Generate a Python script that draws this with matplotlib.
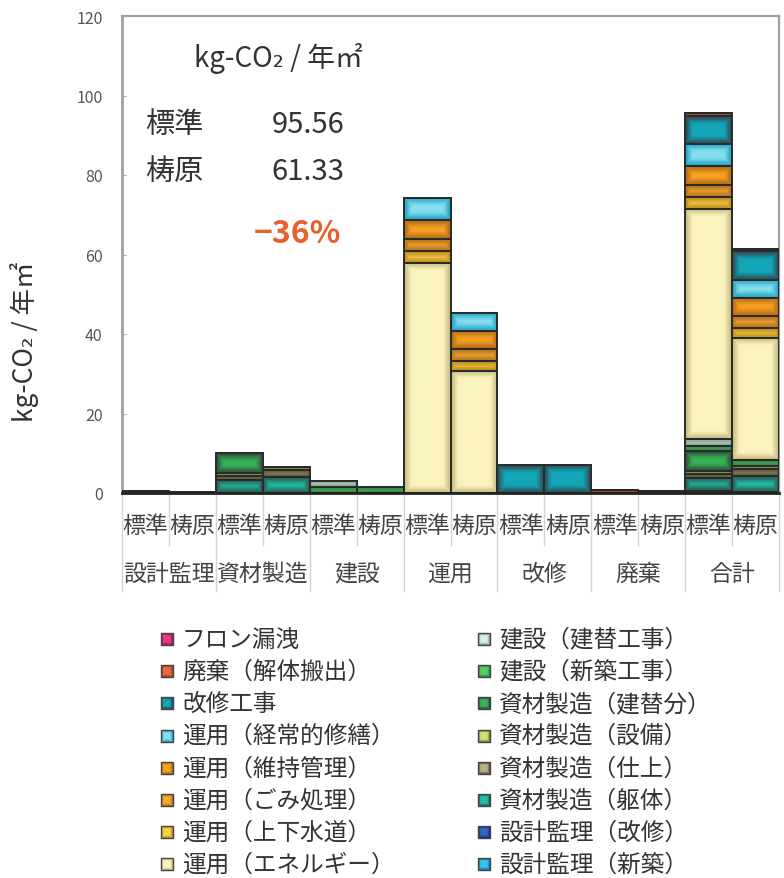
import numpy as np
import matplotlib
matplotlib.use("Agg")
import matplotlib.pyplot as plt
from matplotlib.patches import Rectangle
from matplotlib.transforms import blended_transform_factory
from matplotlib.colors import to_rgb

plt.rcParams['font.family'] = ['Noto Sans CJK JP', 'DejaVu Sans']

# ---------------------------------------------------------------- data
cases = ['標準', '梼原']
categories = ['設計監理', '資材製造', '建設', '運用', '改修', '廃棄']
total_label = '合計'

# stack order, bottom -> top
components = ['設計監理（新築）', '設計監理（改修）',
              '資材製造（躯体）', '資材製造（仕上）', '資材製造（設備）', '資材製造（建替分）',
              '建設（新築工事）', '建設（建替工事）',
              '運用（エネルギー）', '運用（上下水道）', '運用（ごみ処理）',
              '運用（維持管理）', '運用（経常的修繕）',
              '改修工事', '廃棄（解体搬出）', 'フロン漏洩']
component_category = [0, 0, 1, 1, 1, 1, 2, 2, 3, 3, 3, 3, 3, 4, 5, 5]

# kg-CO2 / (year m2)
standard_values = [0.30, 0.10, 3.30, 1.10, 0.70, 5.00, 1.40, 1.70,
                   57.90, 3.00, 3.00, 4.70, 5.60, 6.96, 0.80, 0.00]
yusuhara_values = [0.20, 0.10, 4.00, 1.70, 0.80, 0.00, 1.50, 0.00,
                   30.80, 2.50, 2.90, 4.60, 4.60, 7.13, 0.50, 0.00]

# ---------------------------------------------------------------- style
# (centre colour, rim colour) of every component's shaded fill
fills = [('#36C4EE', '#1A78A0'), ('#3464C4', '#1C3272'),
         ('#1EC2A2', '#2C5E58'), ('#BCB282', '#5E5A40'),
         ('#D4E474', '#7A8A40'), ('#36B456', '#2F5540'),
         ('#52D264', '#3A8A48'), ('#DCF0E2', '#8AA898'),
         ('#FCF4BE', '#C8BE84'), ('#FAD04A', '#C09020'),
         ('#F6AA34', '#B87420'), ('#F7A022', '#B46E18'),
         ('#86DEEE', '#22A8C8'), ('#12A6B8', '#2D5058'),
         ('#EA6C3C', '#A04828'), ('#E8388A', '#A02060')]
RIM_PX = 9.0
TEXT = '#333333'


def shaded(center, rim, w_px, h_px, band):
    w = max(int(round(w_px)), 1)
    h = max(int(round(h_px)), 1)
    jx = np.arange(w) + 0.5
    iy = np.arange(h) + 0.5
    dx = np.minimum(jx, w - jx)
    dy = np.minimum(iy, h - iy)
    d = np.minimum(dx[None, :], dy[:, None])
    t = np.clip(d / band, 0, 1)
    t = t * t * (3 - 2 * t)
    c = np.array(to_rgb(center))
    e = np.array(to_rgb(rim))
    return e + (c - e) * t[..., None]


FW, FH = 784, 879
fig = plt.figure(figsize=(FW / 100, FH / 100), dpi=100)
fig.patch.set_facecolor('white')

# overlay in pixel units for the legend
lay = fig.add_axes([0, 0, 1, 1])
lay.set_xlim(0, FW)
lay.set_ylim(FH, 0)
lay.axis('off')

ax = fig.add_axes([122 / FW, 1 - 494 / FH, 657 / FW, 477 / FH])
ax.set_xlim(-0.5, 13.5)
ax.set_ylim(0, 120)

# ---------------------------------------------------------------- bars
n_bars = 2 * len(categories) + 2
xs = np.arange(n_bars)
heights = np.zeros((len(components), n_bars))
for i, cat in enumerate(component_category):
    for k, vals in enumerate((standard_values, yusuhara_values)):
        heights[i, 2 * cat + k] = vals[i]
        heights[i, 2 * len(categories) + k] = vals[i]

std_total = round(float(np.sum(standard_values)), 2)
yus_total = round(float(np.sum(yusuhara_values)), 2)

bottom = np.zeros(n_bars)
for i in range(len(components)):
    center, rim = fills[i]
    bars = ax.bar(xs, heights[i], bottom=bottom, width=1.0, color=center,
                  edgecolor='none', zorder=2)
    for p in bars.patches:
        if p.get_height() <= 0:
            continue
        x0, y0 = p.get_x(), p.get_y()
        x1, y1 = x0 + p.get_width(), y0 + p.get_height()
        (px0, py0), (px1, py1) = ax.transData.transform([(x0, y0), (x1, y1)])
        img = shaded(center, rim, abs(px1 - px0), abs(py1 - py0), RIM_PX)
        im = ax.imshow(img, extent=(x0, x1, y0, y1), origin='upper',
                       aspect='auto', interpolation='bilinear', zorder=3)
        im.set_clip_path(p)
    ax.bar(xs, heights[i], bottom=bottom, width=1.0, fill=False,
           edgecolor='#2a2a2a', linewidth=1.4, zorder=4)
    bottom = bottom + heights[i]

ax.set_xlim(-0.5, 13.5)
ax.set_ylim(0, 120)

# ---------------------------------------------------------------- axes
ax.set_yticks(np.arange(0, 121, 20))
ax.set_xticks([])
ax.tick_params(axis='y', direction='in', length=3, color='#b0b0b0',
               labelsize=11.5, labelcolor='#555555', pad=14)
for side in ('left', 'top', 'right'):
    ax.spines[side].set_color('#a0a0a0')
    ax.spines[side].set_linewidth(1.6)
ax.spines['left'].set_linewidth(2.0)
ax.spines['bottom'].set_color('#222222')
ax.spines['bottom'].set_linewidth(2.0)
ax.spines['bottom'].set_zorder(5)

ax.set_ylabel('kg-CO₂ / 年㎡', fontsize=19, color=TEXT)
ax.yaxis.set_label_coords(-0.126, 0.319)

# two-level category axis
bt = blended_transform_factory(ax.transData, ax.transAxes)
for x in xs:
    ax.text(x, -0.069, cases[x % 2], transform=bt, ha='center', va='center',
            fontsize=16.5, color='#444444')
group_names = categories + [total_label]
for g, name in enumerate(group_names):
    ax.text(2 * g + 0.5, -0.168, name, transform=bt, ha='center', va='center',
            fontsize=16.5, color='#444444')
for b in range(n_bars + 1):
    edge = b - 0.5
    y_end = -0.205 if b % 2 == 0 else -0.109
    ax.plot([edge, edge], [0, y_end], transform=bt, color='#d4d4d4',
            linewidth=1.0, clip_on=False, zorder=1)

# ---------------------------------------------------------------- notes
ax.text(0.238, 0.912, 'kg-CO₂ / 年㎡', transform=ax.transAxes, ha='center',
        va='center', fontsize=20, color=TEXT)
ax.text(0.035, 0.774, cases[0], transform=ax.transAxes, ha='left',
        va='center', fontsize=21, color=TEXT)
ax.text(0.228, 0.774, f'{std_total:.2f}', transform=ax.transAxes, ha='left',
        va='center', fontsize=21, color=TEXT)
ax.text(0.035, 0.675, cases[1], transform=ax.transAxes, ha='left',
        va='center', fontsize=21, color=TEXT)
ax.text(0.228, 0.675, f'{yus_total:.2f}', transform=ax.transAxes, ha='left',
        va='center', fontsize=21, color=TEXT)
change = round((yus_total / std_total - 1) * 100)
ax.text(0.200, 0.545, f'−{abs(change)}%', transform=ax.transAxes, ha='left',
        va='center', fontsize=23, fontweight='bold', color='#E8602C')

# ---------------------------------------------------------------- legend
legend_order = list(range(len(components)))[::-1]
col_marker_x = [167, 484]
col_text_x = [182, 499]
row_y0, row_dy = 640, 32.2
for n, i in enumerate(legend_order):
    col, row = divmod(n, 8)
    cx, cy = col_marker_x[col], row_y0 + row * row_dy
    s = 12
    img = shaded(fills[i][0], fills[i][1], s, s, 3.5)
    lay.imshow(img, extent=(cx - s / 2, cx + s / 2, cy + s / 2, cy - s / 2),
               origin='upper', aspect='auto', interpolation='bilinear', zorder=2)
    lay.add_patch(Rectangle((cx - s / 2, cy - s / 2), s, s, fill=False,
                            edgecolor='#444444', linewidth=1.0, zorder=3))
    lay.text(col_text_x[col], cy, components[i], ha='left', va='center',
             fontsize=17, color=TEXT)
lay.set_xlim(0, FW)
lay.set_ylim(FH, 0)

fig.savefig('out.png', dpi=100, facecolor='white')
